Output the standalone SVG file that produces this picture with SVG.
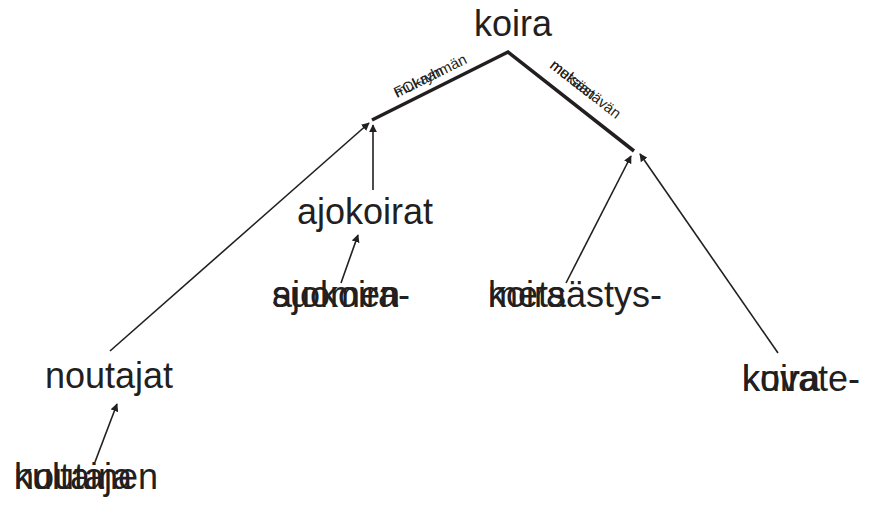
<svg xmlns="http://www.w3.org/2000/svg" width="874" height="505" viewBox="0 0 874 505">
<style>
.t{font-family:"Liberation Sans",Arial,sans-serif;font-size:36px;fill:#231f20}
.l{font-family:"Liberation Sans",Arial,sans-serif;font-size:15px;fill:#231f20}
.thick{stroke:#231f20;stroke-width:3.5;fill:none}
.arr{stroke:#231f20;stroke-width:1.6;fill:none;marker-end:url(#ah)}
</style>
<defs>
<marker id="ah" viewBox="0 0 10 10" refX="9" refY="5" markerWidth="8" markerHeight="8" markerUnits="userSpaceOnUse" orient="auto">
<path d="M0,0L10,5L0,10z" fill="#231f20"/>
</marker>
</defs>
<g id="koira"><text class="t" x="474" y="36">koira</text></g>
<g id="noutajat"><text class="t" x="45" y="388">noutajat</text></g>
<g id="ajokoirat"><text class="t" x="297" y="224">ajokoirat</text></g>
<g id="suomenajokoira"><text class="t" x="272" y="307">suomen</text><text class="t" x="272" y="307">ajokoira-</text></g>
<g id="metsastyskoira"><text class="t" x="488" y="307">metsästys-</text><text class="t" x="488" y="307">koira</text></g>
<g id="kuvatekoira"><text class="t" x="742" y="391">kuvate-</text><text class="t" x="742" y="391">koira</text></g>
<g id="kultainennoutaja"><text class="t" x="14" y="489">kultainen</text><text class="t" x="14" y="489">noutaja</text></g>
<g id="connectors">
<path class="thick" d="M372,120L508,52L634,151"/>
<text class="l" transform="translate(397,98) rotate(-26.5)">FCI-ryhmän</text>
<text class="l" transform="translate(397,98) rotate(-26.5)">mukaan</text>
<text class="l" transform="translate(549,67) rotate(38)">metsästävän</text>
<text class="l" transform="translate(549,67) rotate(38)">mukaan</text>
<path class="arr" d="M110,351L369,123"/>
<path class="arr" d="M373,190L373,125"/>
<path class="arr" d="M341,283L358,235"/>
<path class="arr" d="M95,462L117,404"/>
<path class="arr" d="M566,283L631,156"/>
<path class="arr" d="M778,353L640,154"/>
</g>
</svg>
